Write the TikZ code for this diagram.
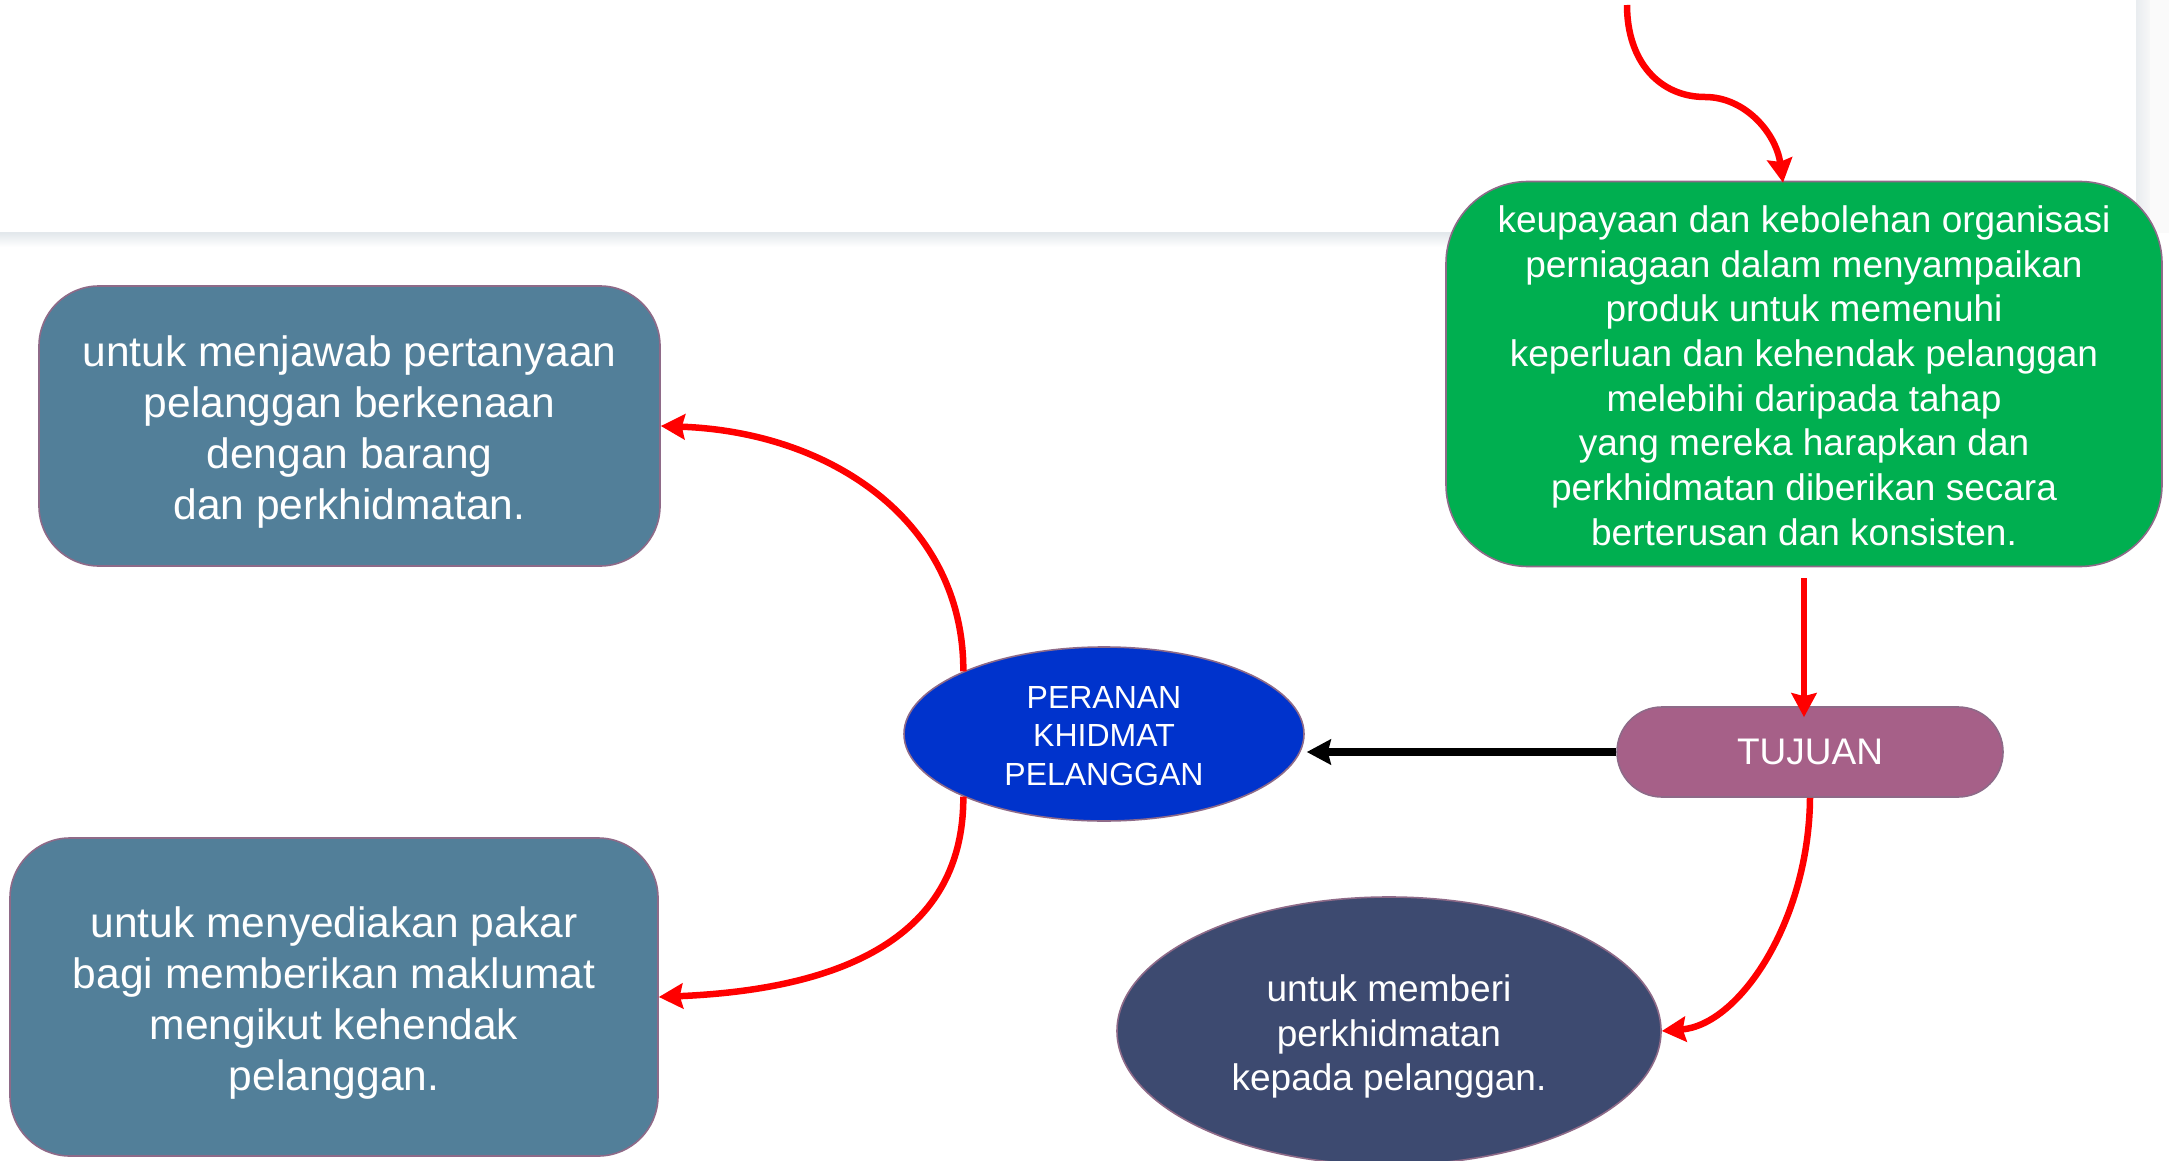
\documentclass[tikz,border=0pt]{standalone}
\usepackage{fontspec}
\setmainfont{Liberation Sans}
\usetikzlibrary{arrows.meta,shapes.geometric}
\definecolor{steelbox}{HTML}{527F99}
\definecolor{greenbox}{HTML}{00AF50}
\definecolor{blueell}{HTML}{0033CC}
\definecolor{mauvebox}{HTML}{A66088}
\definecolor{darkell}{HTML}{3D4A70}
\definecolor{edgec}{HTML}{8E6A88}
\definecolor{shadowc}{HTML}{E3E8EC}
\newcommand{\lftline}[1]{\rule{0pt}{#1}}
\tikzset{
  shapebase/.style={draw=edgec, line width=1.6pt, text=white, align=center, inner sep=0pt},
  roundbox/.style={shapebase, rectangle, rounded corners=60pt},
  ellbox/.style={shapebase, ellipse},
  redarrow/.style={draw=red, line width=6.5pt, -{Stealth[length=24pt,width=25pt,inset=3pt]}},
  blackarrow/.style={draw=black, line width=7.5pt, -{Stealth[length=24pt,width=25pt,inset=3pt]}},
  bigtext/.style={font=\fontsize{42.5}{51}\selectfont},
  midtext/.style={font=\fontsize{37}{44.7}\selectfont},
  smalltext/.style={font=\fontsize{32}{38.7}\selectfont}
}
\begin{document}
\begin{tikzpicture}[x=1pt,y=-1pt]
\useasboundingbox (0,0) rectangle (2169,1161);
\fill[white] (0,0) rectangle (2169,1161);
% page edge shadows
\fill[top color=shadowc, bottom color=white] (0,233) rectangle (2143,247);
\fill[left color=shadowc!80, right color=white!97!black] (2136,0) rectangle (2150,233);
\fill[white!98!black] (2150,0) rectangle (2169,233);
\draw[shadowc, line width=2pt] (0,233) -- (2143,233);

% nodes
\node[roundbox, fill=steelbox, minimum width=621pt, minimum height=280pt, bigtext] (box1) at (349.5,426)
  {\lftline{42pt}untuk menjawab pertanyaan\\pelanggan berkenaan\\dengan barang\\dan perkhidmatan.};
\node[roundbox, fill=steelbox, minimum width=648pt, minimum height=318pt, bigtext] (box2) at (334,997)
  {\lftline{42pt}untuk menyediakan pakar\\bagi memberikan maklumat\\mengikut kehendak\\pelanggan.};
\node[roundbox, rounded corners=82pt, fill=greenbox, minimum width=716pt, minimum height=385pt, midtext] (green) at (1804,374)
  {\lftline{30pt}keupayaan dan kebolehan organisasi\\perniagaan dalam menyampaikan\\produk untuk memenuhi\\keperluan dan kehendak pelanggan\\melebihi daripada tahap\\yang mereka harapkan dan\\perkhidmatan diberikan secara\\berterusan dan konsisten.};
\node[ellbox, fill=blueell, minimum width=400pt, minimum height=174pt, smalltext] (peranan) at (1104,734)
  {\lftline{26pt}PERANAN\\KHIDMAT\\PELANGGAN};
\node[roundbox, rounded corners=45pt, fill=mauvebox, minimum width=386pt, minimum height=90pt, midtext] (tujuan) at (1810,752)
  {TUJUAN};
\node[ellbox, fill=darkell, minimum width=544pt, minimum height=268pt, midtext] (goal) at (1389,1031)
  {\lftline{38pt}untuk memberi\\perkhidmatan\\kepada pelanggan.};

% connectors
\coordinate (src) at (1627,5);
\draw[redarrow] (src) .. controls (1627,62) and (1660,97) .. (1705,97)
  .. controls (1745,97) and (1776,133) .. ([xshift=-21pt,yshift=-2pt]green.north);
\draw[redarrow, shorten <=11pt, shorten >=-11pt] (green.south) -- (green.south |- tujuan.north);
\draw[blackarrow] (tujuan.west) -- ([xshift=2pt]peranan.east |- tujuan.west);
\draw[redarrow] (peranan.156) .. controls (964,524) and (834,432) .. (box1.east);
\draw[redarrow] (peranan.204) .. controls (964,945) and (828,990) .. (box2.east);
\draw[redarrow] (tujuan.south) .. controls (1809,920) and (1740,1025) .. (goal.east);
\end{tikzpicture}
\end{document}
